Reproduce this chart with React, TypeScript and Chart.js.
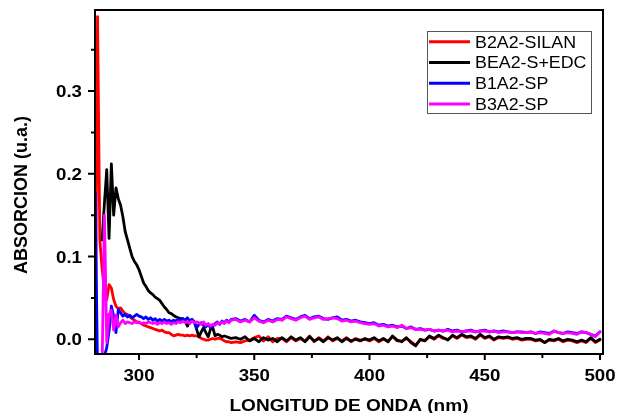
import React, { useEffect, useRef } from "react";
import { Chart, registerables } from "chart.js";

Chart.register(...registerables);

// Wavelengths (nm): 1 nm steps 281-340, 2 nm steps 342-500
const wavelengths = [
  281, 282, 283, 284, 285, 286, 287, 288, 289, 290,
  291, 292, 293, 294, 295, 296, 297, 298, 299, 300,
  301, 302, 303, 304, 305, 306, 307, 308, 309, 310,
  311, 312, 313, 314, 315, 316, 317, 318, 319, 320,
  321, 322, 323, 324, 325, 326, 327, 328, 329, 330,
  331, 332, 333, 334, 335, 336, 337, 338, 339, 340,
  342, 344, 346, 348, 350, 352, 354, 356, 358, 360,
  362, 364, 366, 368, 370, 372, 374, 376, 378, 380,
  382, 384, 386, 388, 390, 392, 394, 396, 398, 400,
  402, 404, 406, 408, 410, 412, 414, 416, 418, 420,
  422, 424, 426, 428, 430, 432, 434, 436, 438, 440,
  442, 444, 446, 448, 450, 452, 454, 456, 458, 460,
  462, 464, 466, 468, 470, 472, 474, 476, 478, 480,
  482, 484, 486, 488, 490, 492, 494, 496, 498, 500,
];

const seriesNames = ["B2A2-SILAN", "BEA2-S+EDC", "B1A2-SP", "B3A2-SP"];
const seriesColors = ["#ff0000", "#000000", "#0000ff", "#ff00ff"];

const b2a2Silan = [
  -0.03, 0.39, 0.12, 0.085, 0.058, 0.048, 0.066, 0.062, 0.048, 0.04,
  0.037, 0.038, 0.034, 0.031, 0.03, 0.027, 0.025, 0.023, 0.021, 0.02,
  0.019, 0.017, 0.016, 0.015, 0.014, 0.013, 0.012, 0.011, 0.01, 0.011,
  0.009, 0.008, 0.008, 0.006, 0.004, 0.005, 0.006, 0.005, 0.005, 0.004,
  0.005, 0.004, 0.005, 0.004, 0.004, 0.003, 0.001, 0.0, -0.001, -0.001,
  0.0, 0.001, 0.0, 0.001, 0.001, 0.0, -0.002, -0.003, -0.003, -0.004,
  -0.003, -0.004, -0.002, -0.001, 0.002, 0.004, -0.002, 0.003, -0.003, 0.001,
  0.001, -0.003, 0.002, -0.002, 0.001, -0.002, 0.004, -0.003, 0.002, -0.002,
  0.003, -0.002, 0.001, -0.002, 0.002, -0.003, 0.001, -0.001, 0.0, -0.002,
  0.001, -0.003, 0.0, -0.002, 0.003, -0.002, -0.002, 0.001, -0.003, -0.007,
  -0.001, -0.001, 0.003, 0.0, 0.004, 0.001, 0.0, 0.004, 0.001, 0.005,
  0.002, 0.003, 0.0, 0.005, 0.001, 0.003, -0.001, 0.002, 0.001, 0.002,
  0.0, 0.001, -0.001, 0.0, 0.0, -0.002, -0.001, -0.004, -0.001, -0.002,
  0.0, -0.003, -0.001, -0.002, -0.004, -0.002, -0.004, 0.001, -0.004, -0.001,
];

const bea2SEdc = [
  null, null, null, 0.12, 0.165, 0.205, 0.122, 0.212, 0.15, 0.183,
  0.17, 0.162, 0.148, 0.13, 0.12, 0.11, 0.1, 0.094, 0.09, 0.084,
  0.076, 0.068, 0.064, 0.059, 0.056, 0.054, 0.051, 0.049, 0.047, 0.043,
  0.039, 0.036, 0.032, 0.031, 0.029, 0.027, 0.026, 0.025, 0.025, 0.022,
  0.016, 0.022, 0.024, 0.021, 0.012, 0.003, 0.009, 0.014, 0.008, 0.003,
  0.012, 0.014, 0.004, 0.006, 0.005, 0.003, 0.004, 0.003, 0.002, 0.001,
  0.002, 0.0, 0.003, -0.002, 0.001, -0.003, 0.002, -0.001, 0.001, -0.003,
  0.002, -0.002, 0.003, -0.001, 0.002, -0.003, 0.003, -0.002, 0.001, -0.003,
  0.002, -0.001, 0.002, -0.003, 0.001, -0.002, 0.0, -0.002, 0.001, -0.001,
  0.002, -0.002, 0.001, -0.003, 0.004, -0.001, -0.003, 0.002, -0.004, -0.008,
  0.0, -0.002, 0.004, 0.001, 0.005, 0.002, -0.001, 0.005, 0.002, 0.006,
  0.003, 0.004, 0.001, 0.006, 0.002, 0.004, 0.0, 0.003, 0.002, 0.003,
  0.001, 0.002, 0.0, 0.001, 0.001, -0.001, 0.0, -0.004, 0.0, -0.001,
  0.001, -0.002, 0.0, -0.001, -0.003, -0.001, -0.003, 0.002, -0.003, 0.0,
];

const b1a2Sp = [
  0.177, -0.04, -0.04, -0.035, -0.02, -0.01, 0.01, 0.04, 0.028, 0.008,
  0.036, 0.032, 0.028, 0.03, 0.027, 0.029, 0.026, 0.028, 0.03, 0.028,
  0.027, 0.025, 0.027, 0.024, 0.026, 0.023, 0.025, 0.022, 0.024, 0.022,
  0.024, 0.022, 0.023, 0.021, 0.023, 0.022, 0.024, 0.022, 0.025, 0.023,
  0.026, 0.022, 0.024, 0.02, 0.014, 0.018, 0.02, 0.017, 0.015, 0.018,
  0.014, 0.016, 0.019, 0.021, 0.018, 0.022, 0.02, 0.023, 0.021, 0.024,
  0.025, 0.022, 0.024, 0.021, 0.029, 0.023, 0.021, 0.024, 0.022, 0.025,
  0.024, 0.028, 0.026, 0.024, 0.027, 0.029, 0.025, 0.027, 0.028, 0.025,
  0.024, 0.026, 0.027, 0.023, 0.024, 0.022, 0.023, 0.021, 0.02, 0.019,
  0.02, 0.017, 0.018, 0.016, 0.017, 0.015, 0.016, 0.013, 0.015, 0.012,
  0.013, 0.011, 0.012, 0.01, 0.011, 0.01, 0.012, 0.01, 0.011, 0.009,
  0.01, 0.011, 0.009, 0.01, 0.011, 0.009, 0.01, 0.009, 0.01, 0.009,
  0.008, 0.009, 0.009, 0.008, 0.009, 0.007, 0.009, 0.008, 0.007, 0.01,
  0.008, 0.007, 0.009, 0.008, 0.007, 0.009, 0.008, 0.006, 0.004, 0.009,
];

const b3a2Sp = [
  -0.04, -0.04, -0.04, -0.03, 0.15, -0.004, 0.03, 0.035, 0.011, 0.029,
  0.015, 0.02, 0.023, 0.019, 0.021, 0.02, 0.019, 0.021, 0.02, 0.021,
  0.019, 0.02, 0.019, 0.021, 0.02, 0.019, 0.02, 0.018, 0.02, 0.019,
  0.021, 0.019, 0.02, 0.018, 0.02, 0.019, 0.021, 0.02, 0.022, 0.02,
  0.021, 0.019, 0.022, 0.02, 0.021, 0.02, 0.018, 0.021, 0.017, 0.019,
  0.016, 0.018, 0.017, 0.02, 0.019, 0.021, 0.019, 0.022, 0.02, 0.023,
  0.024, 0.021, 0.023, 0.021, 0.026, 0.022, 0.02, 0.023, 0.021, 0.024,
  0.023, 0.027, 0.025, 0.023, 0.026, 0.028, 0.024, 0.026, 0.027, 0.024,
  0.025, 0.026, 0.025, 0.022, 0.023, 0.021, 0.022, 0.02, 0.019, 0.018,
  0.019, 0.016, 0.017, 0.015, 0.016, 0.014, 0.017, 0.013, 0.014, 0.012,
  0.012, 0.011, 0.012, 0.01, 0.011, 0.01, 0.011, 0.009, 0.01, 0.009,
  0.01, 0.01, 0.009, 0.01, 0.01, 0.009, 0.01, 0.008, 0.009, 0.009,
  0.008, 0.009, 0.008, 0.008, 0.009, 0.007, 0.008, 0.007, 0.006, 0.01,
  0.008, 0.007, 0.008, 0.007, 0.006, 0.009, 0.008, 0.006, 0.003, 0.009,
];

const xMajorTicks = [300, 350, 400, 450, 500];
const xMinorTicks = [325, 375, 425, 475];
const yMajorTicks = [0, 0.1, 0.2, 0.3];
const yMinorTicks = [0.05, 0.15, 0.25, 0.35];
const yTickLabels = ["0.0", "0.1", "0.2", "0.3"];
const xTitle = "LONGITUD DE ONDA (nm)";
const yTitle = "ABSORCION (u.a.)";

const FONT = "'Liberation Sans', Arial, sans-serif";

function drawText(
  ctx: CanvasRenderingContext2D,
  text: string,
  x: number,
  y: number,
  font: string,
  align: CanvasTextAlign,
  sx: number,
  rot = 0
) {
  ctx.save();
  ctx.translate(x, y);
  if (rot) ctx.rotate(rot);
  ctx.scale(sx, 1);
  ctx.font = font;
  ctx.textAlign = align;
  ctx.textBaseline = "alphabetic";
  ctx.fillStyle = "#000";
  ctx.fillText(text, 0, 0);
  ctx.restore();
}

const framePlugin = {
  id: "frame",
  afterDraw(chart: any) {
    const { ctx, chartArea: a, scales } = chart;
    const xs = scales.x;
    const ys = scales.y;
    ctx.save();
    // frame
    ctx.strokeStyle = "#000";
    ctx.lineWidth = 2;
    ctx.strokeRect(a.left, a.top, a.right - a.left, a.bottom - a.top);
    // ticks
    ctx.beginPath();
    xMajorTicks.forEach((v) => {
      const px = xs.getPixelForValue(v);
      ctx.moveTo(px, a.bottom);
      ctx.lineTo(px, a.bottom + 6);
    });
    xMinorTicks.forEach((v) => {
      const px = xs.getPixelForValue(v);
      ctx.moveTo(px, a.bottom);
      ctx.lineTo(px, a.bottom + 4);
    });
    yMajorTicks.forEach((v) => {
      const py = ys.getPixelForValue(v);
      ctx.moveTo(a.left, py);
      ctx.lineTo(a.left - 7, py);
    });
    yMinorTicks.forEach((v) => {
      const py = ys.getPixelForValue(v);
      ctx.moveTo(a.left, py);
      ctx.lineTo(a.left - 4, py);
    });
    ctx.stroke();

    const tickFont = `bold 17px ${FONT}`;
    xMajorTicks.forEach((v) => {
      drawText(ctx, String(v), xs.getPixelForValue(v), a.bottom + 26.5, tickFont, "center", 1.1);
    });
    yMajorTicks.forEach((v, i) => {
      drawText(ctx, yTickLabels[i], a.left - 13, ys.getPixelForValue(v) + 6, tickFont, "right", 1.1);
    });

    // axis titles
    drawText(ctx, xTitle, (a.left + a.right) / 2, 411, `bold 17px ${FONT}`, "center", 1.12);
    drawText(ctx, yTitle, 27, 195, `bold 18px ${FONT}`, "center", 1.0, -Math.PI / 2);

    // legend
    const lx = 427, ly = 31, lw = 164, lh = 82;
    ctx.fillStyle = "#fff";
    ctx.fillRect(lx, ly, lw, lh);
    ctx.strokeStyle = "#555";
    ctx.lineWidth = 1;
    ctx.strokeRect(lx + 0.5, ly + 0.5, lw, lh);
    seriesNames.forEach((name, i) => {
      const cy = 41.7 + i * 20.8;
      ctx.strokeStyle = seriesColors[i];
      ctx.lineWidth = 3;
      ctx.beginPath();
      ctx.moveTo(429, cy);
      ctx.lineTo(470, cy);
      ctx.stroke();
      drawText(ctx, name, 475, cy + 5.8, `16.5px ${FONT}`, "left", 1.08);
    });
    ctx.restore();
  },
};

export default function App() {
  const canvasRef = useRef<HTMLCanvasElement | null>(null);

  useEffect(() => {
    const canvas = canvasRef.current;
    if (!canvas) return;
    const values = [b2a2Silan, bea2SEdc, b1a2Sp, b3a2Sp];
    const chart = new Chart(canvas, {
      type: "line",
      data: {
        datasets: values.map((arr, k) => ({
          label: seriesNames[k],
          data: wavelengths.map((w, i) => ({ x: w, y: arr[i] })),
          borderColor: seriesColors[k],
          backgroundColor: seriesColors[k],
          borderWidth: 2.8,
          borderJoinStyle: "round" as const,
          borderCapStyle: "round" as const,
          pointRadius: 0,
          tension: 0,
          fill: false,
          spanGaps: false,
          order: 4 - k,
        })),
      },
      options: {
        responsive: false,
        animation: false,
        devicePixelRatio: 1,
        layout: { padding: { left: 95, right: 14, top: 10, bottom: 59 } },
        plugins: { legend: { display: false }, tooltip: { enabled: false } },
        scales: {
          x: { type: "linear", min: 280.9, max: 501.3, display: false },
          y: { type: "linear", min: -0.0178, max: 0.398, display: false },
        },
      },
      plugins: [framePlugin],
    });
    return () => chart.destroy();
  }, []);

  return (
    <div style={{ position: "fixed", left: 0, top: 0, width: 617, height: 413, background: "#fff" }}>
      <canvas ref={canvasRef} width={617} height={413} style={{ display: "block" }} />
    </div>
  );
}
